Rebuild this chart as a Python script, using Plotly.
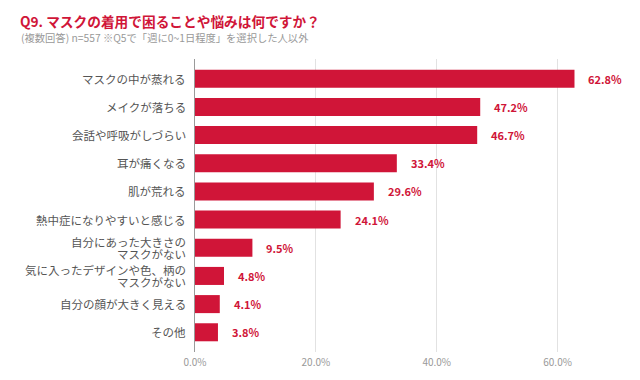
import plotly.graph_objects as go

categories = [
    "マスクの中が蒸れる",
    "メイクが落ちる",
    "会話や呼吸がしづらい",
    "耳が痛くなる",
    "肌が荒れる",
    "熱中症になりやすいと感じる",
    "自分にあった大きさの<br>マスクがない",
    "気に入ったデザインや色、柄の<br>マスクがない",
    "自分の顔が大きく見える",
    "その他",
]
values = [62.8, 47.2, 46.7, 33.4, 29.6, 24.1, 9.5, 4.8, 4.1, 3.8]
value_labels = [f"{v:.1f}%" for v in values]
tick_vals = [0, 20, 40, 60]
tick_text = ["0.0%", "20.0%", "40.0%", "60.0%"]

title_text = "Q9. マスクの着用で困ることや悩みは何ですか？"
subtitle_text = "(複数回答) n=557 ※Q5で「週に0~1日程度」を選択した人以外"

RED = "#d01538"
FONT = "Noto Sans CJK JP"

# page body has an 8px default margin: work in page pixels and shift
OFF = 8
W, H = 640 - OFF, 380 - OFF
left, right, top, bottom = 195 - OFF, 618 - OFF, 59 - OFF, 352 - OFF
pw = right - left
ph = bottom - top

ypos = list(range(len(categories)))

fig = go.Figure(
    go.Bar(
        x=values,
        y=ypos,
        orientation="h",
        marker=dict(color=RED, line=dict(width=0)),
        width=0.64,
        hoverinfo="skip",
    )
)

annotations = []
# value labels
for yi, v, lab in zip(ypos, values, value_labels):
    annotations.append(dict(
        text=f"<b>{lab}</b>", x=v, y=yi, xref="x", yref="y",
        showarrow=False, xanchor="left", yanchor="middle", xshift=12,
        font=dict(family=FONT, size=11, color=RED),
    ))
# category labels (tight line spacing like the reference)
line_gap = 12
for yi, cat in zip(ypos, categories):
    lines = cat.split("<br>")
    n = len(lines)
    for k, ln in enumerate(lines):
        shift = ((n - 1) / 2 - k) * line_gap
        annotations.append(dict(
            text=ln, x=0, y=yi, xref="paper", yref="y",
            showarrow=False, xanchor="right", yanchor="middle",
            xshift=-7, yshift=shift,
            font=dict(family=FONT, size=11.5, color="#555555"),
        ))

# title and subtitle (page pixel -> paper)
def px2paper(px, py):
    px -= OFF
    py -= OFF
    return (px - left) / pw, ((H - py) - (H - bottom)) / ph

tx, ty = px2paper(18, 21.5)
sx, sy = px2paper(19, 37.5)
annotations.append(dict(
    text=f"<b>{title_text}</b>", x=tx, y=ty, xref="paper", yref="paper",
    showarrow=False, xanchor="left", yanchor="middle",
    font=dict(family=FONT, size=13.7, color=RED),
))
annotations.append(dict(
    text=subtitle_text, x=sx, y=sy, xref="paper", yref="paper",
    showarrow=False, xanchor="left", yanchor="middle",
    font=dict(family=FONT, size=10.3, color="#999999"),
))

fig.update_layout(
    width=W,
    height=H,
    margin=dict(l=left, r=W - right, t=top, b=H - bottom, pad=0, autoexpand=False),
    paper_bgcolor="white",
    plot_bgcolor="white",
    showlegend=False,
    font=dict(family=FONT),
    xaxis=dict(
        range=[0, 70],
        tickvals=tick_vals,
        ticktext=tick_text,
        showgrid=True,
        gridcolor="#e2e2e2",
        gridwidth=1,
        zeroline=False,
        showline=False,
        ticks="",
        tickfont=dict(family=FONT, size=10, color="#999999"),
        ticklabelstandoff=3,
        automargin=False,
        fixedrange=True,
    ),
    yaxis=dict(
        range=[len(categories) - 0.3, -0.7],
        tickvals=ypos,
        showticklabels=False,
        showgrid=False,
        zeroline=False,
        showline=True,
        linecolor="#9a9a9a",
        linewidth=1,
        ticks="",
        automargin=False,
        fixedrange=True,
    ),
    annotations=annotations,
)

fig.write_html("out.html")
